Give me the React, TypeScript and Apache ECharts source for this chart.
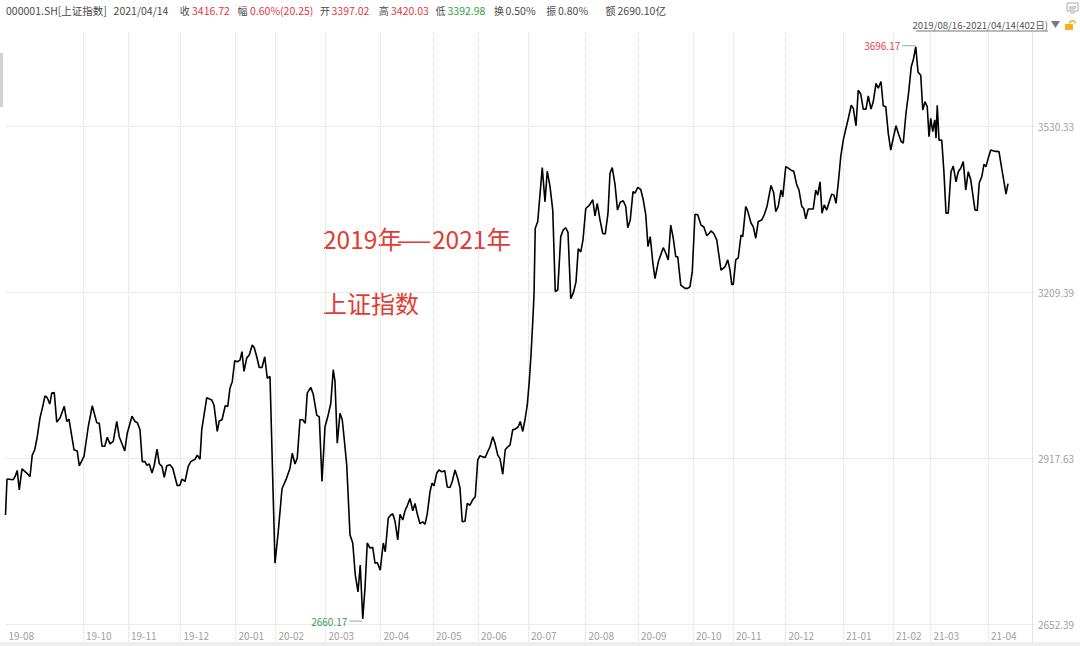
import React, { useEffect, useRef } from 'react';
import * as echarts from 'echarts';

// ---- x axis: trading-day index (0 = 2019/08/16), month boundaries ----
const monthTickDays = [31, 49, 70, 92, 108, 128, 150, 171, 189, 209, 232, 253, 275, 291, 312, 335, 355, 370, 393];
const monthLabelDays = [0, ...monthTickDays];
const monthLabels = ['19-08', '19-10', '19-11', '19-12', '20-01', '20-02', '20-03', '20-04', '20-05', '20-06', '20-07', '20-08', '20-09', '20-10', '20-11', '20-12', '21-01', '21-02', '21-03', '21-04'];

// ---- y axis (log scale, 10% steps) ----
const priceTicks = [2652.39, 2917.63, 3209.39, 3530.33];

// ---- close prices ----
const days2019 = [0, 0.6, 3.1, 3.8, 4.7, 5.5, 6.6, 8.5, 9.8, 10.7, 11.7, 12.7, 13.8, 14.9, 15.8, 16.7, 17.7, 18.5, 19.5, 20.5, 21.8, 23.5, 24.5, 25.4, 26.2, 27.4, 28.7, 29.5, 31.4, 33.1, 34.7, 36.5, 37.5, 38.6, 39.7, 40.7, 41.8, 43.1, 44.5, 45.5, 47.7, 48.7, 50.6, 51.8, 52.7, 53.8, 54.7, 55.8, 56.5, 57.5, 58.6, 59.5, 60.6, 61.5, 62.6, 63.5, 64.5, 65.8, 66.9, 68.7, 69.8, 70.6, 71.8, 73.1, 74.1, 75.8, 76.7, 77.8];
const close2019 = [2824, 2883, 2882, 2887, 2897, 2865, 2900, 2893, 2887, 2923, 2932, 2954, 2986, 3006, 3024, 3021, 3010, 3029, 3030, 2979, 2986, 3006, 2980, 2984, 2963, 2932, 2930, 2905, 2921, 2971, 3007, 2978, 2977, 2938, 2938, 2953, 2942, 2946, 2980, 2954, 2930, 2960, 2989, 2980, 2978, 2966, 2912, 2912, 2906, 2908, 2893, 2906, 2933, 2909, 2904, 2886, 2905, 2907, 2901, 2872, 2873, 2883, 2879, 2904, 2912, 2916, 2923, 2916];

const daysH1 = [78.5, 80.5, 82.5, 83.4, 84.7, 85.5, 86.6, 87.9, 88.9, 89.8, 90.7, 91.7, 92.7, 93.8, 94.6, 95.4, 96.5, 97.5, 98.7, 99.5, 100.5, 101.5, 102.6, 103.7, 104.7, 105.8, 107.8, 109.1, 110.6, 112.2, 113.8, 114.7, 115.8, 116.7, 117.8, 118.9, 119.9, 120.7, 122.1, 123.1, 124.5, 125.5, 126.6, 127.8, 128.9, 130.1, 131.1, 131.8, 132.7, 133.8, 134.7, 135.4, 136.5, 137.8, 138.9, 139.9, 141.0, 141.9, 142.9, 143.8, 144.7, 145.8, 146.9, 147.8, 148.7, 149.9, 151.1, 151.9, 153.1, 154.1, 154.9, 155.8, 156.9, 157.8, 158.9, 159.8, 160.7, 161.8, 162.9, 163.8];
const closeH1 = [2966, 3021, 3017, 3008, 2963, 2981, 2983, 3007, 3006, 3038, 3049, 3086, 3084, 3087, 3102, 3067, 3091, 3096, 3114, 3109, 3093, 3074, 3074, 3093, 3055, 3058, 2747, 2797, 2867, 2882, 2901, 2926, 2908, 2918, 2983, 2983, 2977, 3029, 3039, 3027, 2991, 2988, 2879, 2971, 2988, 3011, 3070, 3049, 2943, 2994, 2983, 2954, 2906, 2792, 2779, 2729, 2702, 2744, 2660.17, 2708, 2779, 2771, 2772, 2747, 2748, 2736, 2779, 2765, 2819, 2824, 2826, 2814, 2784, 2825, 2816, 2831, 2839, 2851, 2831, 2843];

const daysMid = [164.7, 165.8, 166.9, 167.8, 168.7, 169.8, 170.6, 171.4, 172.5, 173.4, 174.5, 175.7, 176.7, 177.8, 178.7, 179.8, 180.9, 181.8, 182.7, 183.8, 184.7, 185.8, 186.9, 187.9, 188.9, 189.8, 190.9, 191.9, 192.9, 193.8, 194.9, 195.8, 196.9, 197.8, 198.9, 199.9, 200.9, 201.8, 202.9, 203.9, 205.1, 205.9, 206.9, 207.8, 208.7, 209.5, 210.2, 210.9, 211.4, 211.9, 212.9, 213.5, 214.7, 215.8, 216.7, 217.8, 218.9, 219.9, 220.9, 222.1, 223.1, 224.1, 225.0, 226.1, 227.1, 228.2, 229.1, 230.1, 231.0, 232.1, 233.5, 234.9, 235.8, 236.7, 237.8, 238.9, 239.9, 241.0, 241.8, 242.7, 243.8, 244.8, 245.9];
const closeMid = [2826, 2810, 2813, 2809, 2826, 2862, 2876, 2872, 2893, 2898, 2895, 2897, 2870, 2869, 2879, 2898, 2884, 2868, 2813, 2814, 2843, 2840, 2849, 2854, 2915, 2922, 2920, 2919, 2929, 2937, 2954, 2943, 2923, 2917, 2891, 2932, 2937, 2940, 2966, 2967, 2971, 2980, 2963, 2983, 3008, 3049, 3096, 3156, 3205, 3330, 3343, 3378, 3448, 3381, 3441, 3411, 3365, 3211, 3214, 3314, 3327, 3331, 3322, 3198, 3208, 3229, 3291, 3285, 3308, 3368, 3374, 3385, 3354, 3378, 3346, 3320, 3319, 3359, 3437, 3448, 3415, 3365, 3380];

const daysH2 = [247.1, 248.1, 248.9, 249.9, 251.0, 251.8, 252.9, 254.1, 255.1, 256.1, 257.0, 257.9, 258.9, 259.8, 261.1, 263.1, 264.1, 265.1, 266.1, 267.1, 268.1, 268.9, 270.1, 271.8, 272.9, 273.8, 274.7, 275.8, 276.9, 278.2, 279.3, 280.5, 281.4, 282.2, 283.3, 284.5, 286.2, 287.8, 288.9, 289.8, 290.5, 291.1, 292.1, 293.1, 294.2, 294.9, 296.1, 296.9, 298.2, 299.1, 300.1, 301.1, 302.5, 303.5, 304.6, 306.2, 307.3, 308.1, 309.1, 310.2, 310.9, 312.1, 313.1, 314.2, 315.3, 316.5, 317.4, 318.5, 319.3, 320.1, 321.1, 323.1, 324.1, 324.9, 325.8, 326.6, 327.5];
const closeH2 = [3383, 3372, 3331, 3346, 3401, 3398, 3409, 3405, 3385, 3356, 3295, 3314, 3266, 3235, 3266, 3293, 3283, 3270, 3336, 3311, 3276, 3276, 3223, 3217, 3217, 3220, 3248, 3357, 3356, 3336, 3333, 3316, 3320, 3325, 3320, 3308, 3251, 3257, 3270, 3251, 3224, 3224, 3270, 3274, 3317, 3314, 3372, 3363, 3340, 3333, 3311, 3343, 3346, 3356, 3372, 3413, 3398, 3362, 3372, 3404, 3391, 3450, 3447, 3443, 3441, 3414, 3404, 3372, 3368, 3348, 3367, 3367, 3404, 3394, 3420, 3359, 3375];

const days2021 = [328.5, 329.5, 330.5, 331.4, 332.2, 333.1, 334.1, 335.1, 336.2, 337.3, 338.3, 339.1, 340.2, 341.1, 342.1, 343.1, 344.2, 345.1, 346.2, 347.1, 348.2, 349.1, 350.2, 351.1, 352.1, 353.1, 354.1, 355.1, 356.2, 357.3, 358.3, 359.1, 360.2, 361.3, 362.3, 363.1, 364.1, 365.0, 366.1, 366.9, 367.8, 368.7, 369.4, 370.1, 370.9, 371.7, 372.2, 372.7, 373.4, 374.5, 375.4, 376.2, 377.1, 378.2, 379.1, 380.2, 381.1, 382.1, 383.1, 384.1, 385.1, 386.1, 387.8, 388.7, 389.5, 390.5, 391.4, 392.2, 393.1, 394.1, 395.4, 397.4, 398.5, 399.4, 400.2, 401];
const close2021 = [3365, 3381, 3396, 3394, 3378, 3417, 3470, 3503, 3527, 3551, 3574, 3568, 3532, 3605, 3597, 3566, 3566, 3593, 3566, 3581, 3619, 3609, 3623, 3573, 3571, 3517, 3483, 3507, 3532, 3514, 3500, 3497, 3558, 3602, 3654, 3668, 3696.17, 3643, 3636, 3564, 3581, 3571, 3510, 3547, 3520, 3544, 3507, 3574, 3503, 3503, 3437, 3359, 3359, 3440, 3451, 3420, 3440, 3447, 3460, 3404, 3440, 3424, 3365, 3364, 3418, 3430, 3455, 3450, 3467, 3483, 3481, 3480, 3446, 3420, 3396, 3416.72];

// ---- header texts ----
const headerTexts = ['000001.SH[上证指数]', '2021/04/14', '收', '3416.72', '幅', '0.60%(20.25)', '开', '3397.02', '高', '3420.03', '低', '3392.98', '换', '0.50%', '振', '0.80%', '额', '2690.10亿'];
const headerKinds = ['n', 'n', 'n', 'r', 'n', 'r', 'n', 'r', 'n', 'r', 'n', 'g', 'n', 'n', 'n', 'n', 'n', 'n'];
const rangeText = '2019/08/16-2021/04/14(402日)';
const titleParts = ['2019年', '—', '2021年'];
const titleLine2 = '上证指数';

const FONT = '"Microsoft YaHei", "Noto Sans CJK SC", sans-serif';

export default function App() {
  const ref = useRef<HTMLDivElement>(null);

  useEffect(() => {
    if (!ref.current) return;
    const chart = echarts.init(ref.current, null, { renderer: 'svg' });

    const allDays = [...days2019, ...daysH1, ...daysMid, ...daysH2, ...days2021];
    const allClose = [...close2019, ...closeH1, ...closeMid, ...closeH2, ...close2021];
    const data = allDays.map((d, i) => [d, allClose[i]]);

    const headerX = [6, 113.6, 179.8, 192, 237.6, 250, 320, 331.5, 378.8, 391, 435.6, 447.5, 494, 505.5, 546.2, 558, 605.4, 617.5];
    const colorOf = (k: string) => (k === 'r' ? '#e0393f' : k === 'g' ? '#33a044' : '#4a4a4a');

    const graphic: any[] = headerTexts.map((t, i) => ({
      type: 'text',
      x: headerX[i],
      y: 10,
      silent: true,
      style: {
        text: t,
        fill: colorOf(headerKinds[i]),
        fontSize: t.length === 1 ? 10 : 10.5,
        fontFamily: FONT,
        verticalAlign: 'middle',
        align: 'left',
      },
    }));

    const titleX = [323, 396, 432];
    const titleScale = [1, 1.65, 1];

    graphic.push(
      { type: 'text', x: 1048, y: 25, style: { text: rangeText, fill: '#555', fontSize: 9.6, fontFamily: FONT, verticalAlign: 'middle', align: 'right' } },
      { type: 'line', shape: { x1: 916, y1: 31, x2: 1048, y2: 31 }, style: { stroke: '#777', lineWidth: 1 } },
      { type: 'polygon', shape: { points: [[1051, 21], [1060, 21], [1055.5, 28]] }, style: { fill: '#7a7a7a' } },
      { type: 'rect', shape: { x: 1065, y: 24, width: 8, height: 6 }, style: { fill: '#f3b21c' } },
      { type: 'arc', shape: { cx: 1072.5, cy: 23.5, r: 2.8, startAngle: Math.PI, endAngle: Math.PI * 2 }, style: { stroke: '#f3b21c', lineWidth: 1.4, fill: 'none' } },
      { type: 'rect', shape: { x: 1067, y: 3, width: 11, height: 8 }, style: { fill: '#fff', stroke: '#aaa', lineWidth: 1 } },
      { type: 'text', x: 1072.5, y: 7, style: { text: 'WP', fill: '#888', fontSize: 5, fontFamily: FONT, align: 'center', verticalAlign: 'middle' } },
      { type: 'line', shape: { x1: 1070, y1: 13, x2: 1075, y2: 13 }, style: { stroke: '#aaa', lineWidth: 1 } },
      { type: 'rect', shape: { x: 0, y: 53, width: 3, height: 54 }, style: { fill: '#d2d2d2' } },
      { type: 'rect', shape: { x: 0, y: 642, width: 1080, height: 4 }, style: { fill: '#eeeeee' } },
      { type: 'line', shape: { x1: 1032.5, y1: 32, x2: 1032.5, y2: 642 }, style: { stroke: '#e2e2e2', lineWidth: 1 } },
      ...titleParts.map((t, i) => ({
        type: 'text',
        x: titleX[i],
        y: 238,
        scaleX: titleScale[i],
        style: { text: t, fill: '#e23b33', fontSize: 24.5, fontFamily: FONT, verticalAlign: 'middle' },
      })),
      { type: 'text', x: 323, y: 302, style: { text: titleLine2, fill: '#e23b33', fontSize: 24, fontFamily: FONT, verticalAlign: 'middle' } }
    );

    const option: any = {
      animation: false,
      backgroundColor: '#fff',
      textStyle: { fontFamily: FONT },
      grid: { left: 5.5, right: 45, top: 32, bottom: 4, containLabel: false },
      xAxis: {
        type: 'value',
        min: 0,
        max: 411.8,
        axisLine: { show: false },
        axisTick: { show: false, customValues: monthTickDays },
        axisLabel: {
          customValues: monthLabelDays,
          inside: true,
          margin: 2,
          align: 'left',
          padding: [0, 0, 0, 3],
          color: '#a0a0a0',
          fontSize: 10,
          formatter: (v: number) => {
            const i = monthLabelDays.indexOf(v);
            return i >= 0 ? monthLabels[i] : '';
          },
        },
        splitLine: { show: true, lineStyle: { color: '#d8d8d8', type: 'dotted', width: 1 } },
      },
      yAxis: {
        type: 'log',
        position: 'right',
        min: 2625.3,
        max: 3727.6,
        axisLine: { show: false },
        axisTick: { show: false, customValues: priceTicks },
        axisLabel: {
          customValues: priceTicks,
          margin: 3,
          color: '#a0a0a0',
          fontSize: 10,
          formatter: (v: number) => Number(v).toFixed(2),
        },
        splitLine: { show: true, lineStyle: { color: '#d8d8d8', type: 'dotted', width: 1 } },
      },
      graphic,
      series: [
        {
          type: 'line',
          data,
          symbol: 'none',
          showSymbol: false,
          lineStyle: { color: '#000', width: 1.6 },
          markPoint: {
            symbol: 'rect',
            symbolSize: [13, 1],
            data: [
              {
                type: 'max',
                symbolOffset: [-7, -1],
                itemStyle: { color: '#7db3b3' },
                label: { show: true, position: 'left', distance: 2, color: '#e0464a', fontSize: 10, formatter: (p: any) => Number(p.value).toFixed(2) },
              },
              {
                type: 'min',
                symbolOffset: [-7, 2],
                itemStyle: { color: '#7db3b3' },
                label: { show: true, position: 'left', distance: 2, color: '#3aa04a', fontSize: 10, formatter: (p: any) => Number(p.value).toFixed(2) },
              },
            ],
          },
        },
      ],
    };

    chart.setOption(option);
    return () => chart.dispose();
  }, []);

  return <div ref={ref} style={{ position: 'fixed', left: 0, top: 0, width: 1080, height: 646, background: '#fff' }} />;
}
